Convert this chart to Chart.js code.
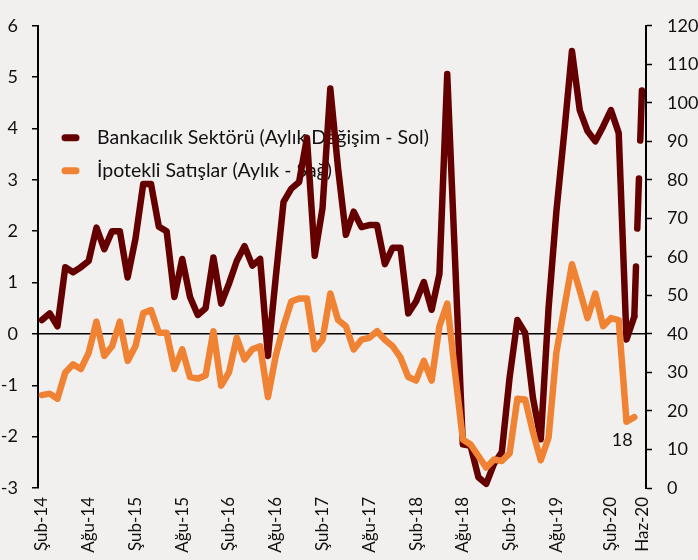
<!DOCTYPE html>
<html><head><meta charset="utf-8">
<script src="https://cdn.jsdelivr.net/npm/chart.js@4"></script>
<style>html,body{margin:0;padding:0;background:#f2f0ef;}canvas{display:block;}</style>
</head><body>
<canvas id="c" width="698" height="560"></canvas>
<script>
const categories = [
  'Şub-14','Mar-14','Nis-14','May-14','Haz-14','Tem-14','Ağu-14','Eyl-14','Eki-14','Kas-14','Ara-14',
  'Oca-15','Şub-15','Mar-15','Nis-15','May-15','Haz-15','Tem-15','Ağu-15','Eyl-15','Eki-15','Kas-15','Ara-15',
  'Oca-16','Şub-16','Mar-16','Nis-16','May-16','Haz-16','Tem-16','Ağu-16','Eyl-16','Eki-16','Kas-16','Ara-16',
  'Oca-17','Şub-17','Mar-17','Nis-17','May-17','Haz-17','Tem-17','Ağu-17','Eyl-17','Eki-17','Kas-17','Ara-17',
  'Oca-18','Şub-18','Mar-18','Nis-18','May-18','Haz-18','Tem-18','Ağu-18','Eyl-18','Eki-18','Kas-18','Ara-18',
  'Oca-19','Şub-19','Mar-19','Nis-19','May-19','Haz-19','Tem-19','Ağu-19','Eyl-19','Eki-19','Kas-19','Ara-19',
  'Oca-20','Oca-20','Şub-20','Mar-20','Nis-20','May-20','Haz-20'
];
const shownTicks = ['Şub-14','Ağu-14','Şub-15','Ağu-15','Şub-16','Ağu-16','Şub-17','Ağu-17',
  'Şub-18','Ağu-18','Şub-19','Ağu-19','Şub-20','Haz-20'];
const seriesNames = ['Bankacılık Sektörü (Aylık Değişim - Sol)', 'İpotekli Satışlar (Aylık - Sağ)'];
// Left axis (%)
const bankacilik = [
  0.27,0.40,0.15,1.30,1.20,1.30,1.42,2.07,1.65,2.00,2.00,1.10,1.85,2.92,2.92,2.09,2.00,0.72,1.46,0.72,
  0.37,0.50,1.49,0.59,0.98,1.42,1.71,1.33,1.46,-0.43,1.10,2.57,2.83,2.96,3.82,1.52,2.45,4.78,3.22,1.93,
  2.38,2.08,2.12,2.12,1.36,1.68,1.68,0.40,0.63,1.01,0.47,1.17,5.06,1.45,-2.15,-2.18,-2.79,-2.92,-2.53,-2.30,
  -0.85,0.27,0.02,-1.25,-2.05,0.50,2.38,3.90,5.51,4.36,3.95,3.75,4.04,4.36,3.91,-0.11,0.34,4.84
];
// Right axis
const ipotekli = [
  24.1,24.5,23.2,30.0,32.1,30.9,35.1,43.2,34.3,36.8,43.2,33.0,36.8,45.4,46.2,40.3,40.3,30.9,36.0,28.8,
  28.4,29.2,40.7,26.6,30.0,39.0,33.4,36.0,36.8,23.6,34.3,42.0,48.4,49.2,49.2,36.0,38.5,50.5,43.6,42.0,
  36.0,38.5,39.0,40.7,38.5,36.8,33.9,28.8,27.9,33.0,27.9,42.0,47.9,30.0,12.6,11.3,8.3,5.3,7.4,7.0,
  9.0,23.2,23.0,14.5,7.2,13.1,35.1,46.6,58.1,51.3,44.1,50.5,42.0,44.1,43.6,17.2,18.4
];
const leftRange = [-3, 6, 1];
const rightRange = [0, 120, 10];

const FONT = 'Lato, "Open Sans", sans-serif';
const DARK = '#650000';
const ORANGE = '#ef8233';
const BG = '#f2f0ef';

const deco = {
  id: 'deco',
  beforeDraw(chart) {
    const c = chart.ctx;
    c.save(); c.fillStyle = BG; c.fillRect(0, 0, chart.width, chart.height); c.restore();
  },
  beforeDatasetsDraw(chart) {
    const c = chart.ctx, a = chart.chartArea;
    const cols = [DARK, ORANGE];
    c.save();
    c.font = '19.5px ' + FONT;
    c.textBaseline = 'middle';
    c.textAlign = 'left';
    seriesNames.forEach((n, i) => {
      const y = a.top + 112 + i * 33;
      c.strokeStyle = cols[i]; c.lineWidth = 7; c.lineCap = 'round';
      c.beginPath(); c.moveTo(a.left + 27, y); c.lineTo(a.left + 38, y); c.stroke();
      c.fillStyle = '#111';
      c.fillText(n, a.left + 59, y);
    });
    c.restore();
  },
  afterDatasetsDraw(chart) {
    const meta = chart.getDatasetMeta(1);
    const last = meta.data[meta.data.length - 1];
    const c = chart.ctx;
    c.save();
    c.font = '18px ' + FONT; c.fillStyle = '#111';
    c.textAlign = 'center'; c.textBaseline = 'middle';
    c.fillText(String(Math.round(ipotekli[ipotekli.length - 1])), last.x - 12, last.y + 23);
    c.restore();
  }
};

new Chart(document.getElementById('c'), {
  type: 'line',
  data: {
    labels: categories,
    datasets: [
      { label: seriesNames[0], data: bankacilik, yAxisID: 'y', borderColor: DARK, borderWidth: 6.5,
        pointRadius: 0, tension: 0, borderJoinStyle: 'round', borderCapStyle: 'round', order: 1,
        segment: { borderDash: ctx => ctx.p1DataIndex === bankacilik.length - 1 ? [50, 38] : undefined } },
      { label: seriesNames[1], data: ipotekli, yAxisID: 'y1', borderColor: ORANGE, borderWidth: 6.5,
        pointRadius: 0, tension: 0, borderJoinStyle: 'round', borderCapStyle: 'round', order: 0 }
    ]
  },
  options: {
    responsive: false, animation: false, devicePixelRatio: 1,
    layout: { padding: { top: 18, right: 0, left: 0, bottom: 0 } },
    plugins: { legend: { display: false }, tooltip: { enabled: false } },
    scales: {
      x: {
        offset: true,
        grid: { display: false, drawTicks: false },
        border: { display: false },
        ticks: { autoSkip: false, maxRotation: 90, minRotation: 90, padding: 9,
          color: '#111', font: { family: FONT, size: 17 },
          callback: (v, i) => shownTicks.includes(categories[i]) ? categories[i] : '' },
        afterFit: s => { s.height = 72; }
      },
      y: {
        position: 'left', min: leftRange[0], max: leftRange[1],
        ticks: { stepSize: leftRange[2], padding: 14, color: '#111', font: { family: FONT, size: 18 } },
        grid: { color: ctx => ctx.tick && ctx.tick.value === 0 ? '#000' : 'rgba(0,0,0,0)', lineWidth: 1.5,
          tickColor: '#000', tickLength: 6, tickWidth: 1.5 },
        border: { display: true, color: '#000', width: 2 },
        afterFit: s => { s.width = 38; }
      },
      y1: {
        position: 'right', min: rightRange[0], max: rightRange[1],
        ticks: { stepSize: rightRange[2], padding: 15, color: '#111', font: { family: FONT, size: 18 } },
        grid: { drawOnChartArea: false, tickColor: '#000', tickLength: 6, tickWidth: 1.5 },
        border: { display: true, color: '#000', width: 2 },
        afterFit: s => { s.width = 52; }
      }
    }
  },
  plugins: [deco]
});
</script>
</body></html>
